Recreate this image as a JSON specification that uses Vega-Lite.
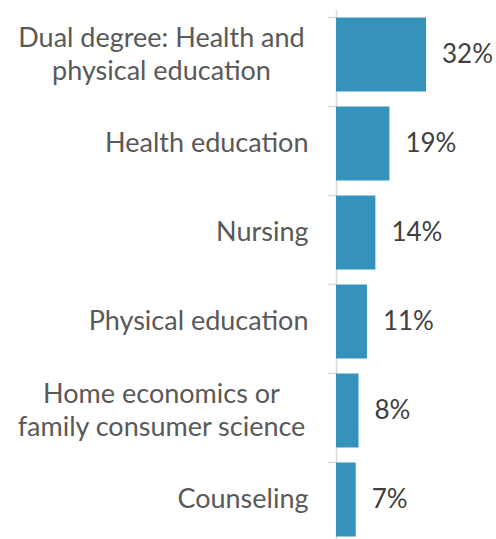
{
  "$schema": "https://vega.github.io/schema/vega-lite/v6.json",
  "autosize": {"type": "none"},
  "padding": {"left": 336, "top": 10, "right": 70, "bottom": 0},
  "width": 90,
  "height": 534,
  "background": "white",
  "config": {"view": {"stroke": null}, "font": "Lato"},
  "data": {"values": [
    {"category": "Dual degree: Health and physical education", "pct": 0.32},
    {"category": "Health education", "pct": 0.19},
    {"category": "Nursing", "pct": 0.14},
    {"category": "Physical education", "pct": 0.11},
    {"category": "Home economics or family consumer science", "pct": 0.08},
    {"category": "Counseling", "pct": 0.07}
  ]},
  "encoding": {
    "y": {
      "field": "category", "type": "nominal", "sort": null,
      "scale": {"paddingInner": 0.17, "paddingOuter": 0.085},
      "axis": {
        "title": null,
        "bandPosition": 0,
        "domainColor": "#D9D9D9", "domainWidth": 1.5,
        "tickColor": "#D9D9D9", "tickWidth": 1.5, "tickSize": 9,
        "labelAlign": {"condition": {"test": "indexof(datum.value, ' or ') >= 0 || indexof(datum.value, ' and ') >= 0", "value": "center"}, "value": "right"},
        "labelPadding": {"condition": {"test": "indexof(datum.value, ' or ') >= 0 || indexof(datum.value, ' and ') >= 0", "value": 166}, "value": 19},
        "labelOffset": {"condition": {"test": "indexof(datum.value, ' or ') >= 0 || indexof(datum.value, ' and ') >= 0", "value": -16}, "value": 0},
        "labelFontSize": 27, "labelColor": "#595959",
        "labelFont": "Lato", "labelLineHeight": 33, "labelLimit": 400,
        "labelExpr": "datum.value == 'Dual degree: Health and physical education' ? ['Dual degree: Health and', 'physical education'] : datum.value == 'Home economics or family consumer science' ? ['Home economics or', 'family consumer science'] : datum.value"
      }
    },
    "x": {
      "field": "pct", "type": "quantitative",
      "scale": {"domain": [0, 0.32], "nice": false},
      "axis": null
    }
  },
  "layer": [
    {"mark": {"type": "bar", "color": "#3593BB"}},
    {
      "mark": {"type": "text", "align": "left", "baseline": "middle", "dx": 16, "fontSize": 26, "color": "#404040", "font": "Lato"},
      "encoding": {"text": {"field": "pct", "type": "quantitative", "format": ".0%"}}
    }
  ]
}
